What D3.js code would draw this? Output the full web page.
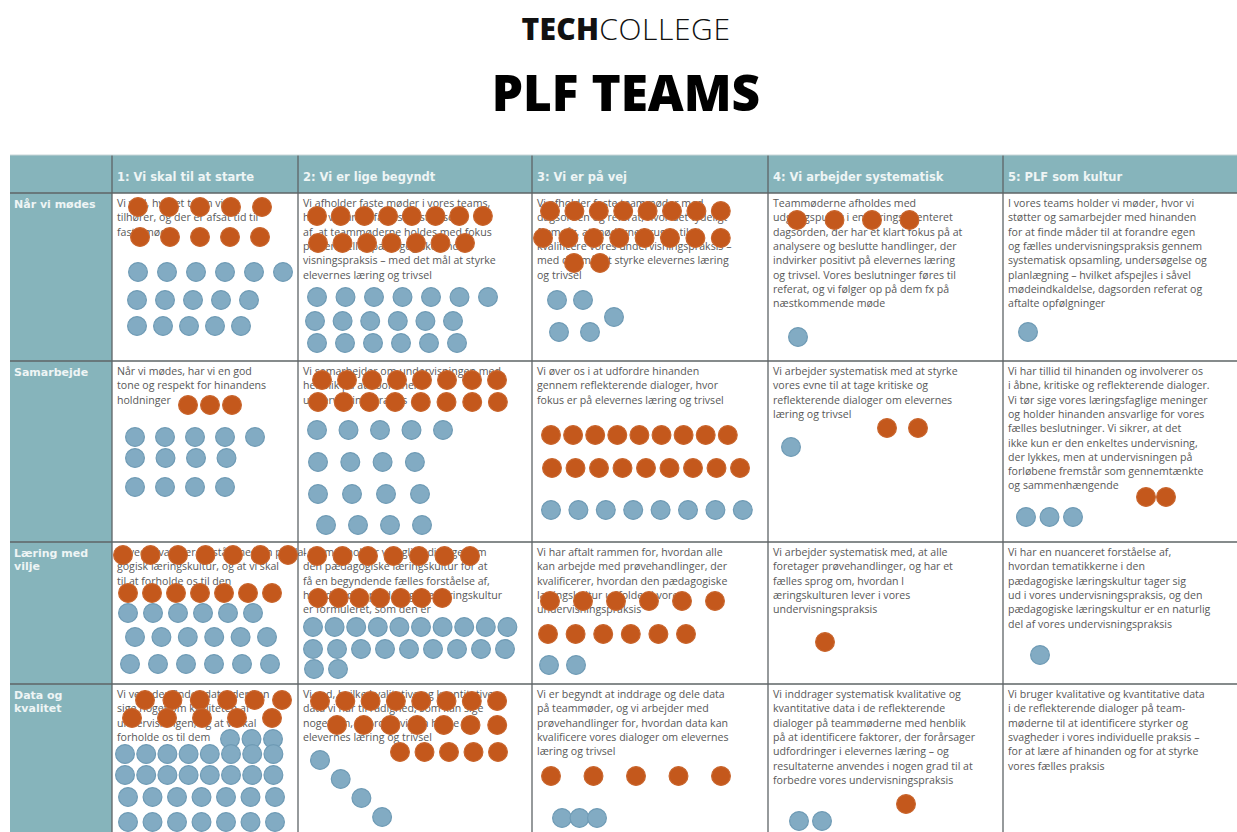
<!DOCTYPE html>
<html><head><meta charset="utf-8">
<script src="https://cdn.jsdelivr.net/npm/d3@7"></script>
<style>body{margin:0;background:#fff}svg{display:block}</style>
</head><body>
<svg id="c" width="1237" height="832"></svg>
<script>
// ---------- DATA ----------
const dimensions = ["Når vi mødes", "Samarbejde", "Læring med\nvilje", "Data og\nkvalitet"];
const levels = ["1: Vi skal til at starte", "2: Vi er lige begyndt", "3: Vi er på vej", "4: Vi arbejder systematisk", "5: PLF som kultur"];

const cellTexts = [
 [
  "Vi ved, hvilket team vi\ntilhører, og der er afsat tid til\nfaste møder",
  "Vi afholder faste møder i vores teams,\nhvor vi har en fælles forståelse\naf, at teammøderne holdes med fokus\npå den fælles pædagogiske under-\nvisningspraksis – med det mål at styrke\nelevernes læring og trivsel",
  "Vi afholder faste teammøder med\ndagsorden og referat, hvor det tydeligt\nfremgår, at møderne bruges til at\nkvalificere vores undervisningspraksis –\nmed det mål at styrke elevernes læring\nog trivsel",
  "Teammøderne afholdes med\nudgangspunkt i en læringsorienteret\ndagsorden, der har et klart fokus på at\nanalysere og beslutte handlinger, der\nindvirker positivt på elevernes læring\nog trivsel. Vores beslutninger føres til\nreferat, og vi følger op på dem fx på\nnæstkommende møde",
  "I vores teams holder vi møder, hvor vi\nstøtter og samarbejder med hinanden\nfor at finde måder til at forandre egen\nog fælles undervisningspraksis gennem\nsystematisk opsamling, undersøgelse og\nplanlægning – hvilket afspejles i såvel\nmødeindkaldelse, dagsorden referat og\naftalte opfølgninger"
 ],
 [
  "Når vi mødes, har vi en god\ntone og respekt for hinandens\nholdninger",
  "Vi samarbejder om undervisningen med\nhenblik på at koordinere\nundervisningspraksis",
  "Vi øver os i at udfordre hinanden\ngennem reflekterende dialoger, hvor\nfokus er på elevernes læring og trivsel",
  "Vi arbejder systematisk med at styrke\nvores evne til at tage kritiske og\nreflekterende dialoger om elevernes\nlæring og trivsel",
  "Vi har tillid til hinanden og involverer os\ni åbne, kritiske og reflekterende dialoger.\nVi tør sige vores læringsfaglige meninger\nog holder hinanden ansvarlige for vores\nfælles beslutninger. Vi sikrer, at det\nikke kun er den enkeltes undervisning,\nder lykkes, men at undervisningen på\nforløbene fremstår som gennemtænkte\nog sammenhængende"
 ],
 [
  "Vi ved, hvad der forstås med en pæda-\ngogisk læringskultur, og at vi skal\ntil at forholde os til den",
  "I teamet holder vi faglige dialoger om\nden pædagogiske læringskultur for at\nfå en begyndende fælles forståelse af,\nhvordan den pædagogiske læringskultur\ner formuleret, som den er",
  "Vi har aftalt rammen for, hvordan alle\nkan arbejde med prøvehandlinger, der\nkvalificerer, hvordan den pædagogiske\nlæringskultur udfoldes i vores\nundervisningspraksis",
  "Vi arbejder systematisk med, at alle\nforetager prøvehandlinger, og har et\nfælles sprog om, hvordan l\næringskulturen lever i vores\nundervisningspraksis",
  "Vi har en nuanceret forståelse af,\nhvordan tematikkerne i den\npædagogiske læringskultur tager sig\nud i vores undervisningspraksis, og den\npædagogiske læringskultur er en naturlig\ndel af vores undervisningspraksis"
 ],
 [
  "Vi ved, der findes data, der kan\nsige noget om kvaliteten af\nundervisningen, og at vi skal\nforholde os til dem",
  "Vi ved, hvilke kvalitative og kvantitative\ndata vi har til rådighed, som kan sige\nnoget om, hvordan vi kan højne\nelevernes læring og trivsel",
  "Vi er begyndt at inddrage og dele data\npå teammøder, og vi arbejder med\nprøvehandlinger for, hvordan data kan\nkvalificere vores dialoger om elevernes\nlæring og trivsel",
  "Vi inddrager systematisk kvalitative og\nkvantitative data i de reflekterende\ndialoger på teammøderne med henblik\npå at identificere faktorer, der forårsager\nudfordringer i elevernes læring – og\nresultaterne anvendes i nogen grad til at\nforbedre vores undervisningspraksis",
  "Vi bruger kvalitative og kvantitative data\ni de reflekterende dialoger på team-\nmøderne til at identificere styrker og\nsvagheder i vores individuelle praksis –\nfor at lære af hinanden og for at styrke\nvores fælles praksis"
 ]
];

// team dots: [dimension index, level index, team type ("o" / "b"), number of teams]
const dotCounts = [
 [0,0,"o",5],[0,0,"o",5],[0,0,"b",6],[0,0,"b",5],[0,0,"b",5],
 [0,1,"o",8],[0,1,"o",7],[0,1,"b",7],[0,1,"b",6],[0,1,"b",6],
 [0,2,"o",8],[0,2,"o",8],[0,2,"o",2],[0,2,"b",2],[0,2,"b",1],[0,2,"b",2],
 [0,3,"o",4],[0,3,"b",1],
 [0,4,"b",1],
 [1,0,"o",3],[1,0,"b",5],[1,0,"b",4],[1,0,"b",4],
 [1,1,"o",8],[1,1,"o",8],[1,1,"b",5],[1,1,"b",4],[1,1,"b",4],[1,1,"b",4],
 [1,2,"o",9],[1,2,"o",9],[1,2,"b",8],
 [1,3,"o",2],[1,3,"b",1],
 [1,4,"o",2],[1,4,"b",3],
 [2,0,"o",7],[2,0,"o",7],[2,0,"b",6],[2,0,"b",6],[2,0,"b",6],
 [2,1,"o",7],[2,1,"o",7],[2,1,"b",10],[2,1,"b",9],[2,1,"b",2],
 [2,2,"o",6],[2,2,"o",6],[2,2,"b",2],
 [2,3,"o",1],
 [2,4,"b",1],
 [3,0,"o",6],[3,0,"o",5],[3,0,"b",3],[3,0,"b",8],[3,0,"b",8],[3,0,"b",7],[3,0,"b",7],
 [3,1,"o",8],[3,1,"o",7],[3,1,"o",5],[3,1,"b",4],
 [3,2,"o",5],[3,2,"b",3],
 [3,3,"o",1],[3,3,"b",2]
];

// ---------- LAYOUT (placement of each dot group inside its cell: dy, dx, step, slope) ----------
const dotPlacement = [
 [14,26,31],[44,28,30],[79,26,29],[107,25,28],[133,25,26],
 [23,19,23.7],[50,20,24.5],[104,19,28.5],[128,17,27.6],[150,19,28],
 [18,18,24.4],[45,11,25.4],[70,42,26],[107,25,26],[124,82,0],[139,27,31],
 [27,29,37.5],[144,30,0],
 [139,25,0],
 [44,76,22],[76,23,30],[97,23,30.5],[126,23,30],
 [19,24,25],[41,20,25.7],[69,19,31.5],[101,20,32.3],[133,20,34],[164,28,32],
 [74,19,22.1],[107,20,23.5],[149,19,27.4],
 [67,119,31],[86,23,0],
 [136,143,20],[156,23,23.5],
 [13,11,27.5],[51,16,24],[71,16,25],[95,23,26.4],[122,18,28],
 [14,19,25.5],[56,20,20.7],[85,15,21.6],[107,15,24],[127,16,24],
 [59,18,33],[92,16,27.6],[123,17,27],
 [100,57,0],
 [113,37,0],
 [16,33,27.4],[34,20,35],[55,118,21.5],[70,13,21.2],[91,13,21.2],[113,16,24.5],[138,16,24.5],
 [17,22,25.3],[41,39,26.7],[68,102,24.5],[76,22,20.7,19],
 [92,19,42.5],[134,30,17.5],
 [120,138,0],[137,31,23]
];

const W = 1237, H = 832;
const colEdges = [10, 112, 298, 532, 768, 1003, 1250];
const rowEdges = [155, 193, 361, 542, 684, 845];
const teal = "#86b4bb";
const lineCol = "#5e6466";
const textCol = "#585858";
const dotColor = {o: "#c4581c", b: "#82abc3"};
const dotStroke = {o: "#c9662e", b: "#6f9bb5"};
const bodyFont = "'Open Sans', sans-serif";
const headFont = "'DejaVu Sans', sans-serif";

const svg = d3.select("#c");

const xLevel = d3.scaleOrdinal().domain(d3.range(levels.length)).range(colEdges.slice(1, 6));
const yDim = d3.scaleOrdinal().domain(d3.range(dimensions.length)).range(rowEdges.slice(1, 5));

// title
svg.append("text").attr("x", 626).attr("y", 40).attr("text-anchor", "middle")
  .style("font-family", "'Open Sans', sans-serif").style("font-size", "30px").attr("fill", "#111")
  .call(t => {
    t.append("tspan").text("TECH").style("font-weight", 800).attr("letter-spacing", "0.3");
    t.append("tspan").text("COLLEGE").style("font-weight", 300).attr("letter-spacing", "0.6");
  });
svg.append("text").attr("x", 626).attr("y", 111).attr("text-anchor", "middle")
  .style("font-family", "'Open Sans', sans-serif").style("font-weight", 800).style("font-size", "49.5px")
  .attr("fill", "#000").text("PLF TEAMS");

// backgrounds
svg.append("rect").attr("x", colEdges[0]).attr("y", rowEdges[0]).attr("width", W - colEdges[0]).attr("height", rowEdges[1] - rowEdges[0]).attr("fill", teal);
svg.append("rect").attr("x", colEdges[0]).attr("y", rowEdges[0]).attr("width", colEdges[1] - colEdges[0]).attr("height", H - rowEdges[0]).attr("fill", teal);

// header labels
svg.selectAll(".hdr").data(levels).join("text").attr("class", "hdr")
  .attr("x", (d, i) => xLevel(i) + 5).attr("y", 181)
  .style("font-family", headFont).style("font-size", "11.5px").style("font-weight", 700)
  .attr("fill", "#eef5f5").text(d => d);

// row labels
svg.selectAll(".dim").data(dimensions).join("text").attr("class", "dim")
  .attr("x", 14).attr("y", (d, i) => yDim(i) + 15)
  .style("font-family", headFont).style("font-size", "11px").style("font-weight", 700)
  .attr("fill", "#eef5f5")
  .each(function(d) {
    const t = d3.select(this);
    d.split("\n").forEach((ln, k) => t.append("tspan").attr("x", 14).attr("dy", k ? 13 : 0).text(ln));
  });

// grid lines
const grid = svg.append("g").attr("stroke", lineCol).attr("stroke-width", 1.3);
rowEdges.slice(1, 5).forEach(y => grid.append("line").attr("x1", colEdges[0]).attr("x2", W).attr("y1", y).attr("y2", y));
colEdges.slice(1, 6).forEach(x => grid.append("line").attr("x1", x).attr("x2", x).attr("y1", rowEdges[0]).attr("y2", H));
svg.append("line").attr("x1", colEdges[0]).attr("x2", W).attr("y1", rowEdges[0]).attr("y2", rowEdges[0]).attr("stroke", "#c9d6d8").attr("stroke-width", 1);

// cell texts
const cells = [];
cellTexts.forEach((row, r) => row.forEach((txt, c) => cells.push({r, c, txt})));
svg.selectAll(".cell").data(cells).join("text").attr("class", "cell")
  .attr("x", d => xLevel(d.c) + 5).attr("y", d => yDim(d.r) + 14)
  .style("font-family", bodyFont).style("font-size", "10.6px").attr("fill", textCol)
  .each(function(d) {
    const t = d3.select(this);
    d.txt.split("\n").forEach((ln, k) => t.append("tspan").attr("x", xLevel(d.c) + 5).attr("dy", k ? 14.3 : 0).text(ln));
  });

// dots
const dots = [];
dotCounts.forEach((g, gi) => {
  const [r, c, type, n] = g;
  const [dy, dx, step, slope = 0] = dotPlacement[gi];
  d3.range(n).forEach(i => dots.push({
    type,
    x: xLevel(c) + dx + i * step,
    y: yDim(r) + dy + i * slope
  }));
});
svg.append("g").selectAll("circle").data(dots).join("circle")
  .attr("cx", d => d.x).attr("cy", d => d.y).attr("r", 9.4)
  .attr("fill", d => dotColor[d.type]).attr("stroke", d => dotStroke[d.type]).attr("stroke-width", 1.2);
</script>
</body></html>
